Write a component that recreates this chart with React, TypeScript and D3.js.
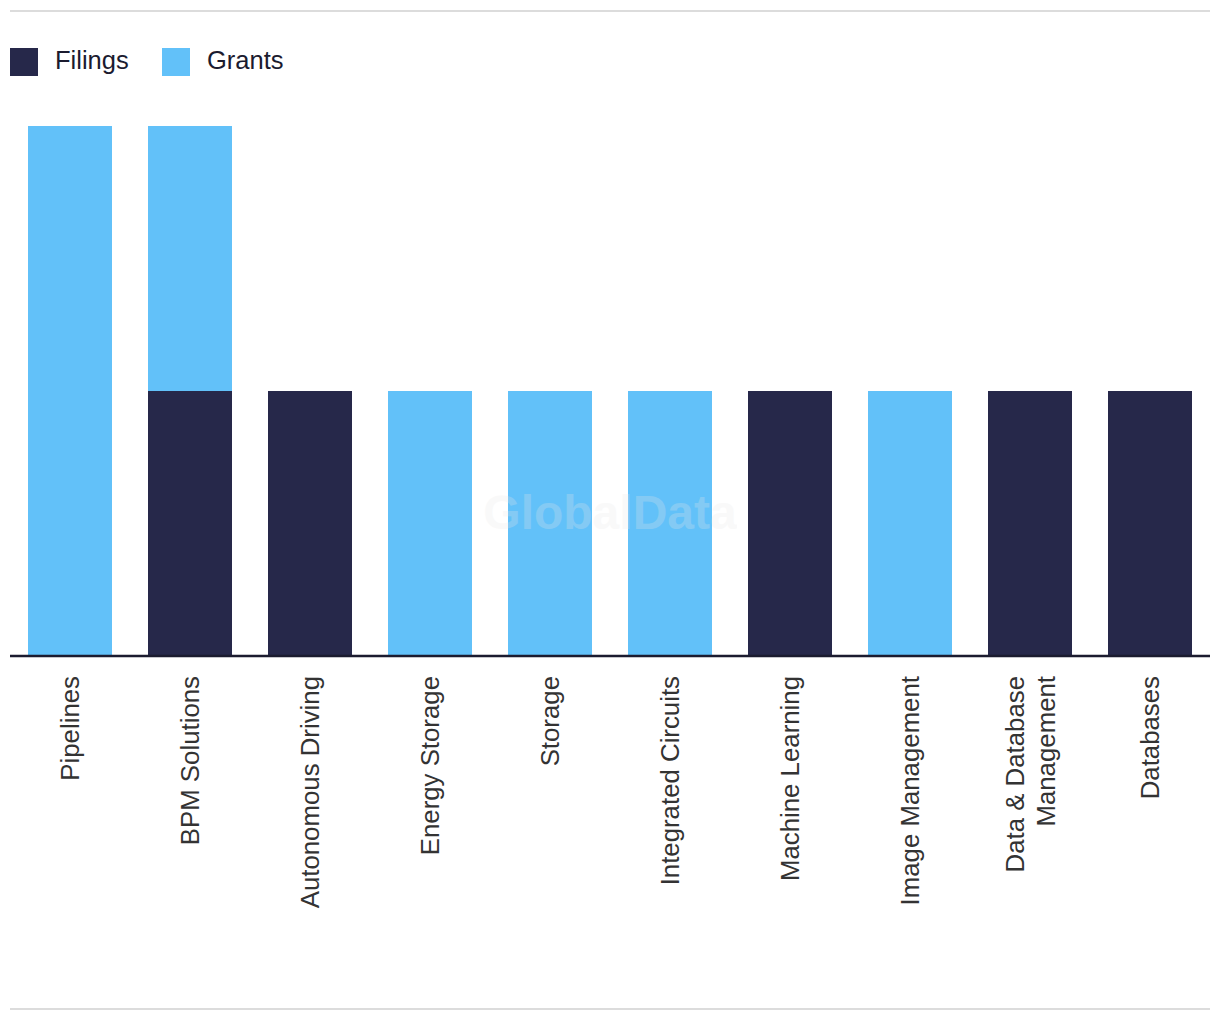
import React from "react";
import * as d3 from "d3";

const categories = [
  ["Pipelines"],
  ["BPM Solutions"],
  ["Autonomous Driving"],
  ["Energy Storage"],
  ["Storage"],
  ["Integrated Circuits"],
  ["Machine Learning"],
  ["Image Management"],
  ["Data & Database", "Management"],
  ["Databases"],
];
const filings = [0, 1, 1, 0, 0, 0, 1, 0, 1, 1];
const grants = [2, 1, 0, 1, 1, 1, 0, 1, 0, 0];
const seriesNames = ["Filings", "Grants"];
const seriesColors = ["#26284a", "#62c1f9"];

const W = 1220;
const H = 1020;
const FONT = "'Liberation Sans', Arial, sans-serif";

export default function App() {
  const keys = categories.map((c) => c.join(" "));
  const rows = keys.map((k, i) => ({ key: k, Filings: filings[i], Grants: grants[i] }));
  const stack = d3.stack<any>().keys(seriesNames)(rows);

  const x = d3.scaleBand().domain(keys).range([10, 1210]).paddingInner(0.3).paddingOuter(0.15);
  const y = d3.scaleLinear().domain([0, 2]).range([656, 126]);

  return (
    <svg width={W} height={H} style={{ position: "absolute", left: 0, top: 0, background: "#fff" }}>
      <line x1={10} x2={1210} y1={11} y2={11} stroke="#dcdcdc" strokeWidth={2} />
      <line x1={10} x2={1210} y1={1009} y2={1009} stroke="#dcdcdc" strokeWidth={2} />

      {seriesNames.map((s, i) => {
        const lx = [10, 162][i];
        return (
          <g key={s}>
            <rect x={lx} y={48} width={28} height={28} fill={seriesColors[i]} />
            <text x={lx + 45} y={69} fontFamily={FONT} fontSize={25.5} fill="#1b1b2f">
              {s}
            </text>
          </g>
        );
      })}

      {stack.map((layer, si) => (
        <g key={layer.key} fill={seriesColors[si]}>
          {layer.map((d: any, i: number) =>
            d[1] - d[0] > 0 ? (
              <rect
                key={i}
                x={x(keys[i])}
                y={y(d[1])}
                width={x.bandwidth()}
                height={y(d[0]) - y(d[1])}
              />
            ) : null
          )}
        </g>
      ))}

      <text
        x={610}
        y={512}
        textAnchor="middle"
        dominantBaseline="central"
        fontFamily={FONT}
        fontWeight="bold"
        fontSize={48}
        fill="#e8e8e8"
        opacity={0.25}
      >
        GlobalData
      </text>

      <line x1={10} x2={1210} y1={656} y2={656} stroke="#1b1b2f" strokeWidth={2.5} />

      {categories.map((lines, i) => {
        const cx = (x(keys[i]) as number) + x.bandwidth() / 2;
        const n = lines.length;
        return (
          <g key={i} transform={`translate(${cx},676) rotate(-90)`}>
            {lines.map((ln, j) => (
              <text
                key={j}
                x={0}
                y={(j - (n - 1) / 2) * 31}
                dy="0.35em"
                textAnchor="end"
                fontFamily={FONT}
                fontSize={25.8}
                fill="#333333"
              >
                {ln}
              </text>
            ))}
          </g>
        );
      })}
    </svg>
  );
}
